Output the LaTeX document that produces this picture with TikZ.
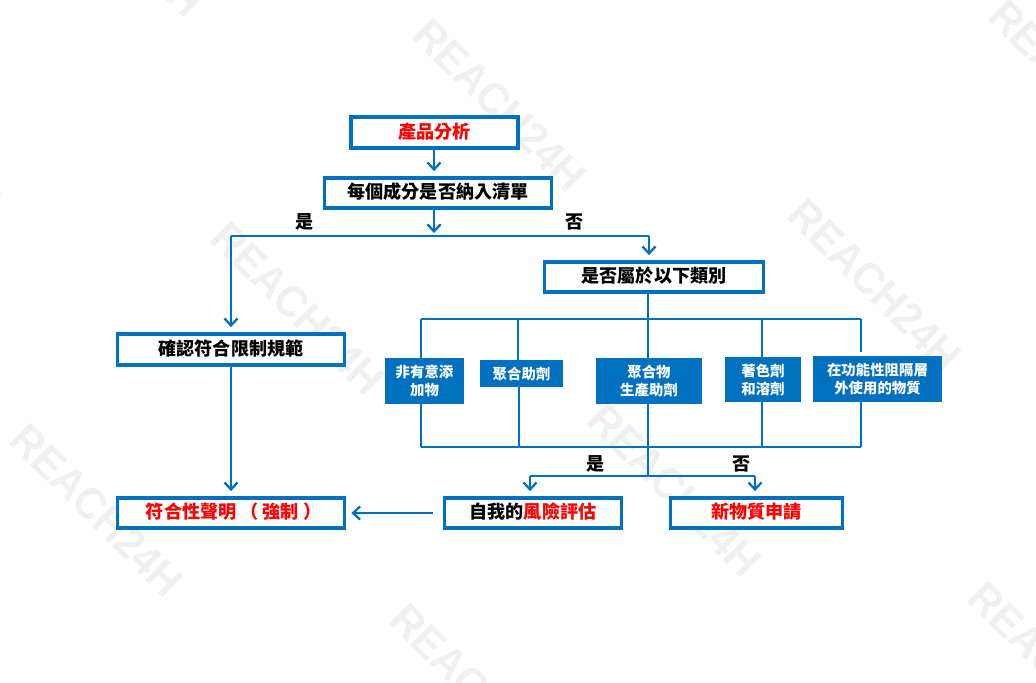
\documentclass[tikz,border=0pt]{standalone}
\usepackage{fontspec}
\setmainfont{Noto Sans CJK TC}
\newfontfamily\wmfont{Liberation Sans}
\usetikzlibrary{arrows.meta}
\definecolor{flowblue}{HTML}{0070C0}
\definecolor{wmgray}{HTML}{F0F0F0}
\tikzset{
  whitebox/.style={draw=flowblue,line width=1.85pt,fill=white,inner sep=0pt,text depth=2.5pt,font=\fontsize{10.3}{12}\selectfont\bfseries},
  bluebox/.style={fill=flowblue,text=white,inner sep=0pt,align=center,font=\fontsize{8.2}{10.2}\selectfont\bfseries},
  flowline/.style={draw=flowblue,line width=1.3pt},
  flowarrow/.style={flowline,-{Straight Barb[length=4pt,width=7.5pt]},shorten >=3pt},
  yesno/.style={font=\fontsize{10.3}{12}\selectfont\bfseries},
  watermark/.style={text=wmgray,rotate=-45,inner sep=0pt,font=\wmfont\bfseries\fontsize{25}{25}\selectfont}
}
\begin{document}
\begin{tikzpicture}[x=0.02cm,y=-0.02cm]
  \useasboundingbox (0,0) rectangle (1036,683);
  % watermark
  \begin{scope}
    \clip (0,0) rectangle (1036,683);
    \foreach \wx/\wy in {500/105,298/308,875/285,97/510,675/490,477/690,1055/668,1076/86,118/-70,-85/128}
      \node[watermark] at (\wx,\wy) {\scalebox{.94}[1]{REACH24H}};
  \end{scope}
  % boxes
  \node[whitebox,minimum width=3.34cm,minimum height=0.62cm,text=red] (product) at (434.5,132.5) {產品分析};
  \node[whitebox,minimum width=4.54cm,minimum height=0.6cm] (listed) at (438,193) {每個成分是否納入清單};
  \node[whitebox,minimum width=4.38cm,minimum height=0.6cm] (category) at (654,277) {是否屬於以下類別};
  \node[whitebox,minimum width=4.54cm,minimum height=0.62cm] (confirm) at (231,349.5) {確認符合限制規範};
  \node[whitebox,minimum width=4.54cm,minimum height=0.6cm,text=red] (declare) at (231,513) {\hspace*{3pt}符合性聲明 （ 強制 ）};
  \node[whitebox,minimum width=3.54cm,minimum height=0.6cm] (risk) at (533,513) {自我的{\color{red}風險評估}};
  \node[whitebox,minimum width=3.44cm,minimum height=0.6cm,text=red] (newsub) at (756.5,513) {新物質申請};
  \node[bluebox,minimum width=1.58cm,minimum height=0.92cm] (nias) at (424.5,381) {非有意添\\加物};
  \node[bluebox,minimum width=1.66cm,minimum height=0.54cm] (polyaid) at (521.5,373.5) {聚合助劑};
  \node[bluebox,minimum width=2.12cm,minimum height=0.92cm] (polyprod) at (649,381) {聚合物\\生產助劑};
  \node[bluebox,minimum width=1.52cm,minimum height=0.9cm] (colorant) at (763,379.5) {著色劑\\和溶劑};
  \node[bluebox,minimum width=2.58cm,minimum height=0.92cm] (barrier) at (877.5,379) {在功能性阻隔層\\外使用的物質};
  % junctions
  \coordinate (split) at (434,236);
  \coordinate (splitl) at (231,236);
  \coordinate (splitr) at (649,236);
  \coordinate (topl) at (421,319);
  \coordinate (topm) at (518,319);
  \coordinate (topc) at (648,319);
  \coordinate (topn) at (762,319);
  \coordinate (topr) at (861,319);
  \coordinate (botl) at (421,447);
  \coordinate (botm) at (519,447);
  \coordinate (botc) at (648,447);
  \coordinate (botn) at (762,447);
  \coordinate (botr) at (861,447);
  \coordinate (forkc) at (648,476);
  \coordinate (forkl) at (530,476);
  \coordinate (forkr) at (755,476);
  % connectors
  \draw[flowarrow] (product.south -| split) -- (listed.north -| split);
  \draw[flowarrow,shorten >=1.7pt] (listed.south -| split) -- (split);
  \draw[flowline] (splitl) -- (splitr);
  \draw[flowarrow] (splitl) -- (confirm.north);
  \draw[flowarrow] (splitr) -- (category.north -| splitr);
  \draw[flowline] (category.south -| topc) -- (topc);
  \draw[flowline] (topl) -- (topr);
  \draw[flowline] (topl) -- (nias.north -| topl);
  \draw[flowline] (topm) -- (polyaid.north -| topm);
  \draw[flowline] (topc) -- (polyprod.north -| topc);
  \draw[flowline] (topn) -- (colorant.north -| topn);
  \draw[flowline,shorten >=2pt] (topr) -- (barrier.north -| topr);
  \draw[flowline] (nias.south -| botl) -- (botl);
  \draw[flowline] (polyaid.south -| botm) -- (botm);
  \draw[flowline] (polyprod.south -| botc) -- (botc);
  \draw[flowline] (colorant.south -| botn) -- (botn);
  \draw[flowline] (barrier.south -| botr) -- (botr);
  \draw[flowline] (botl) -- (botr);
  \draw[flowline] (botc) -- (forkc);
  \draw[flowline] (forkl) -- (forkr);
  \draw[flowarrow] (forkl) -- (risk.north -| forkl);
  \draw[flowarrow] (forkr) -- (newsub.north -| forkr);
  \draw[flowarrow,shorten <=5.7pt,shorten >=3pt] (risk.west) -- (declare.east);
  \draw[flowarrow] (confirm.south) -- (declare.north);
  % labels
  \node[yesno] (yes1) at (305,222) {是};
  \node[yesno] (no1) at (575,222) {否};
  \node[yesno] (yes2) at (596,464) {是};
  \node[yesno] (no2) at (742,464) {否};
\end{tikzpicture}
\end{document}
